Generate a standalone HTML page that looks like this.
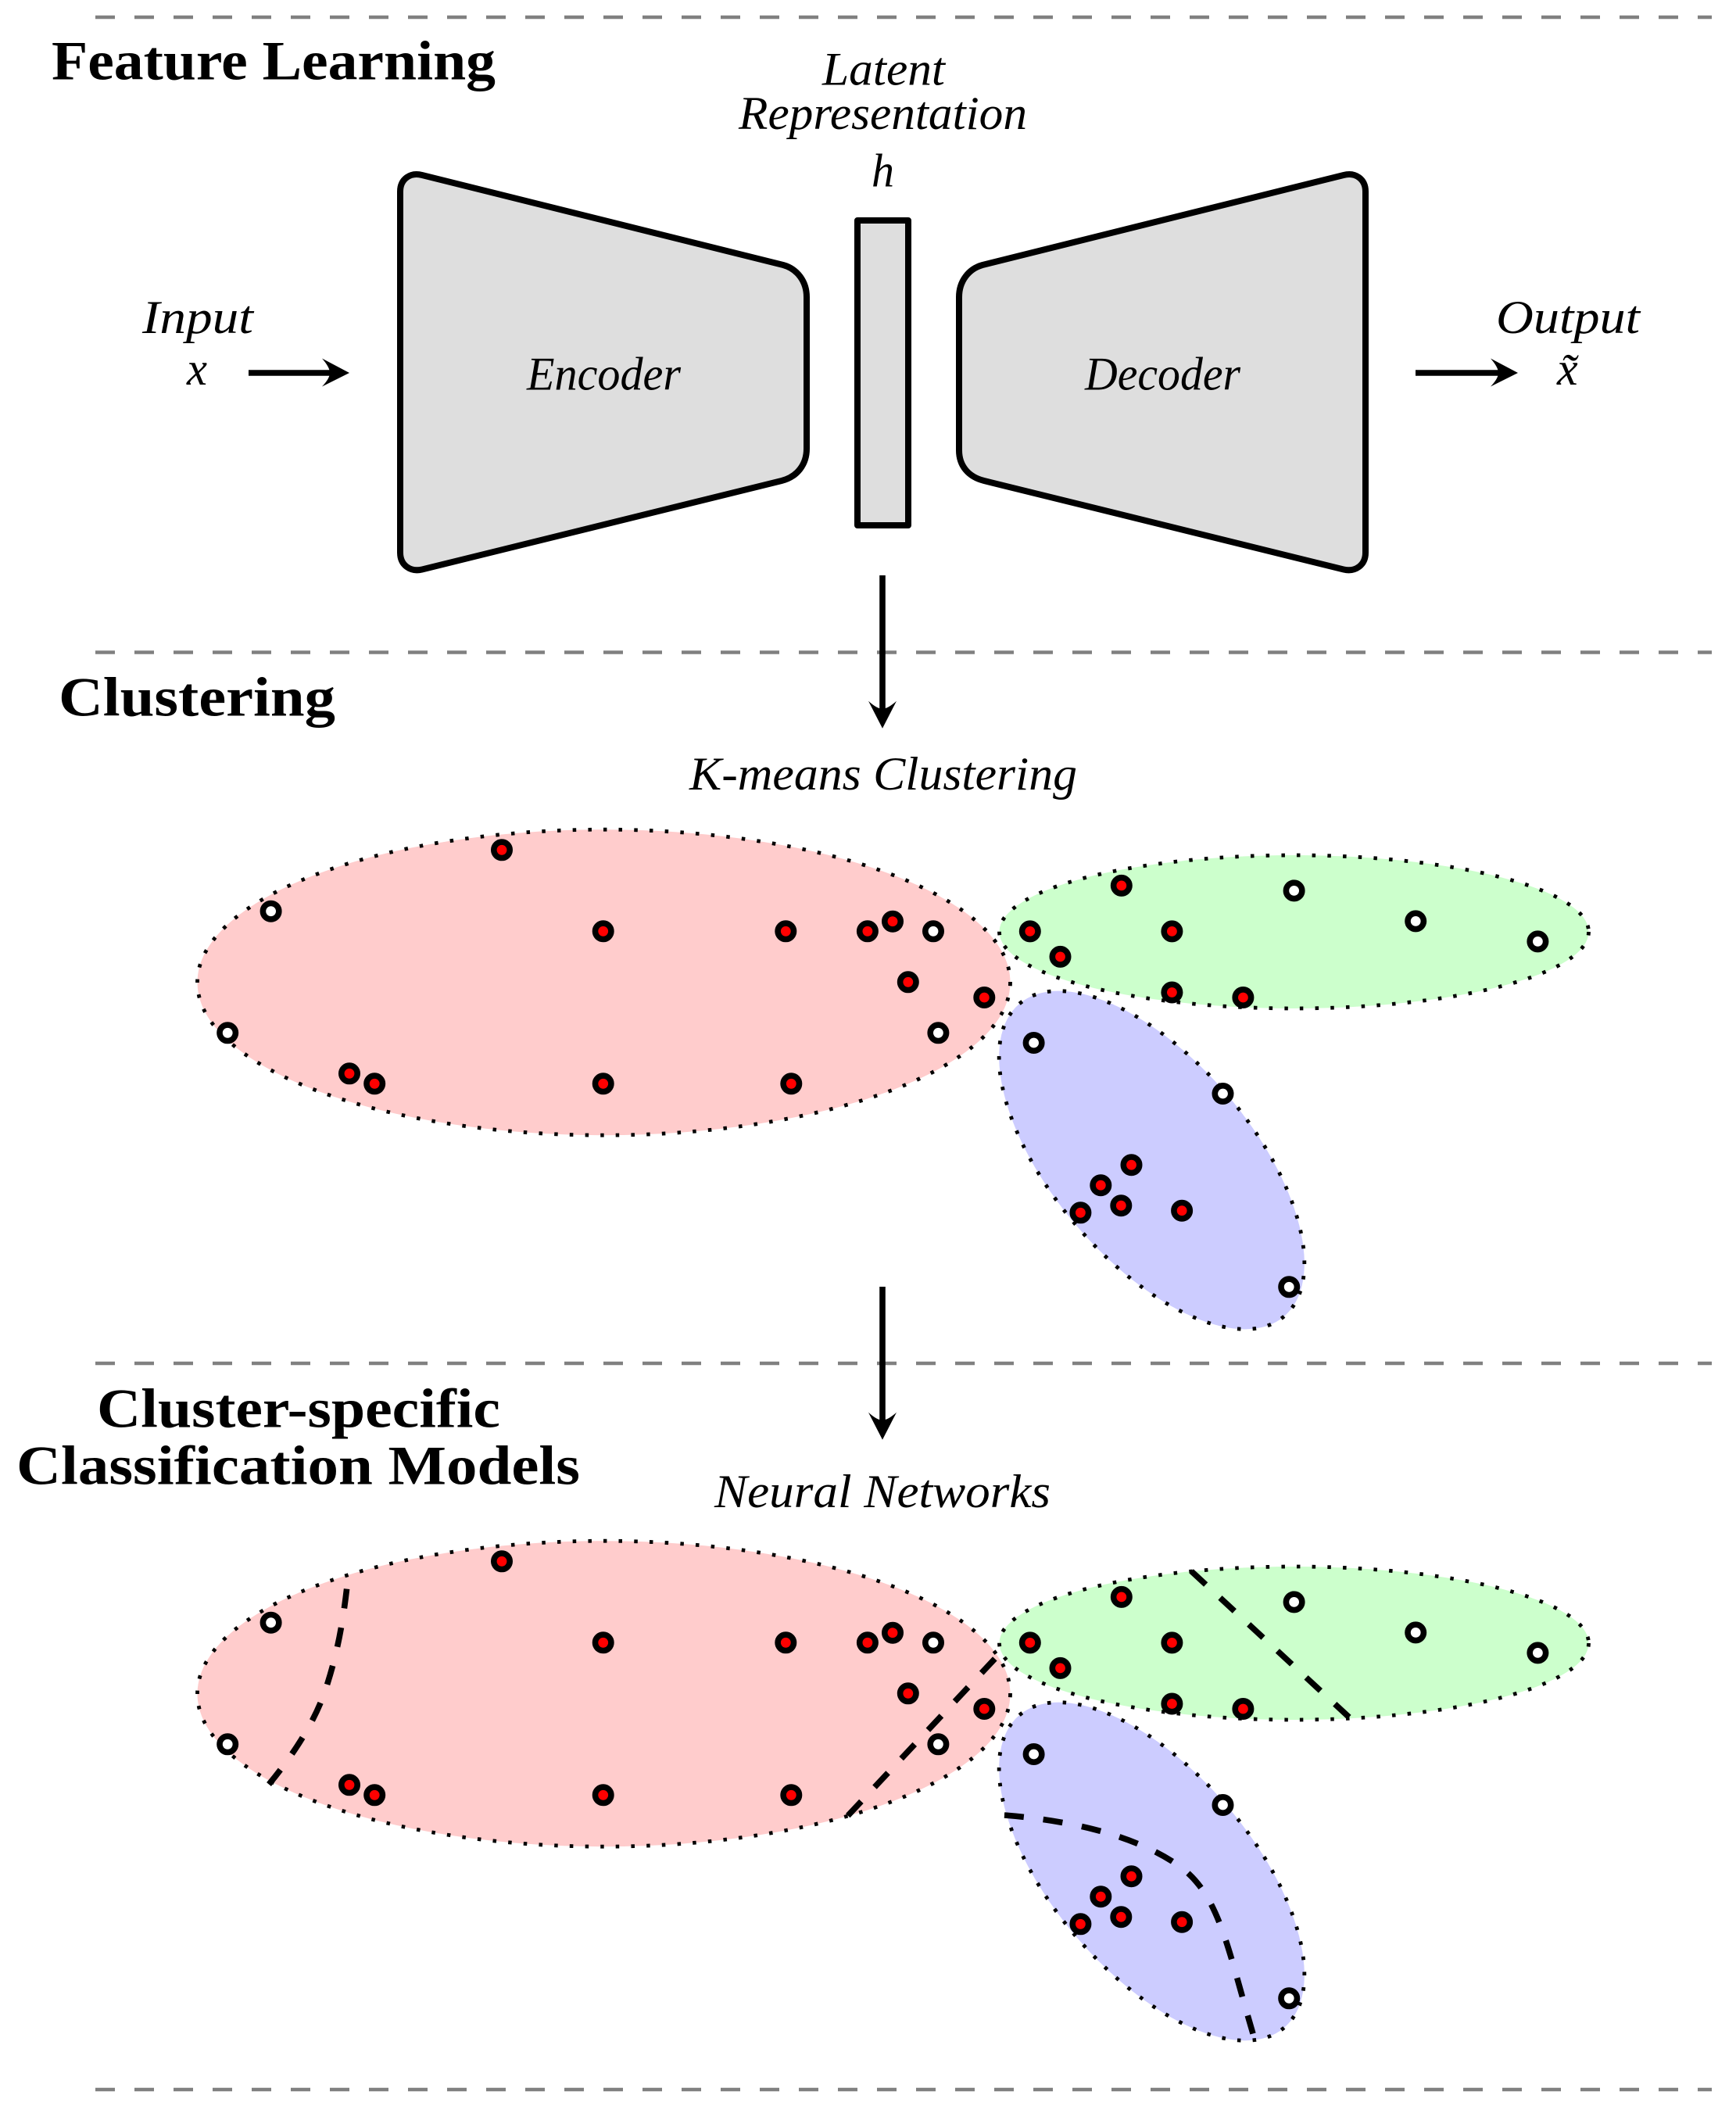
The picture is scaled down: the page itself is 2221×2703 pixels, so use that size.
<!DOCTYPE html>
<html>
<head>
<meta charset="utf-8">
<style>
html,body{margin:0;padding:0;background:#fff}
svg{display:block}
.h{font-family:"Liberation Serif",serif;font-weight:bold;font-size:71px;fill:#000}
.i{font-family:"Liberation Serif",serif;font-style:italic;font-size:60px;fill:#000}
.d{stroke:#808080;stroke-width:4.4;stroke-dasharray:25 25;fill:none}
.s{fill:#dedede;stroke:#000;stroke-width:8;stroke-linejoin:round}
.a{stroke:#000;stroke-width:7.6;fill:none}
.e{stroke:#000;stroke-width:4.8;stroke-dasharray:4.5 15.2}
.r{fill:#f00;stroke:#000;stroke-width:7.6}
.w{fill:#fff;stroke:#000;stroke-width:7.6}
.b{stroke:#000;stroke-width:7.6;stroke-dasharray:25 25;fill:none}
</style>
</head>
<body>
<svg xmlns="http://www.w3.org/2000/svg" width="2221" height="2703" viewBox="0 0 2221 2703">
<rect width="2221" height="2703" fill="#fff"/>

<line class="d" x1="122" y1="22" x2="2190" y2="22"/>
<line class="d" x1="122" y1="834.5" x2="2190" y2="834.5"/>
<line class="d" x1="122" y1="1744" x2="2190" y2="1744"/>
<line class="d" x1="122" y1="2673" x2="2190" y2="2673"/>

<text class="h" x="66" y="101.5" textLength="568" lengthAdjust="spacingAndGlyphs">Feature Learning</text>
<text class="h" x="75" y="915.5" textLength="354" lengthAdjust="spacingAndGlyphs">Clustering</text>
<text class="h" x="124" y="1825.5" textLength="516" lengthAdjust="spacingAndGlyphs">Cluster-specific</text>
<text class="h" x="21" y="1898.5" textLength="721" lengthAdjust="spacingAndGlyphs">Classification Models</text>

<path class="s" d="M512 245 C512 229 525 220 540 224 L1002 339 C1020 344 1032 360 1032 380 L1032 574 C1032 594 1020 610 1000 615 L540 728.5 C525 732 512 723 512 707 Z"/>
<rect class="s" x="1097" y="282" width="65" height="390" stroke-linejoin="miter"/>
<path class="s" d="M1747 245 C1747 229 1734 220 1719 224 L1257 339 C1239 344 1227 360 1227 380 L1227 576 C1227 596 1239 610 1259 615 L1719 728.5 C1734 732 1747 723 1747 707 Z"/>

<text class="i" x="1052" y="108.5" textLength="157" lengthAdjust="spacingAndGlyphs">Latent</text>
<text class="i" x="945" y="165" textLength="369" lengthAdjust="spacingAndGlyphs">Representation</text>
<text class="i" x="1115" y="238.5" textLength="29" lengthAdjust="spacingAndGlyphs">h</text>
<text class="i" x="182" y="426" textLength="142" lengthAdjust="spacingAndGlyphs">Input</text>
<text class="i" x="239" y="492" textLength="26" lengthAdjust="spacingAndGlyphs">x</text>
<text class="i" x="674" y="498.5" textLength="197" lengthAdjust="spacingAndGlyphs">Encoder</text>
<text class="i" x="1388" y="498.5" textLength="199" lengthAdjust="spacingAndGlyphs">Decoder</text>
<text class="i" x="1914" y="426" textLength="184" lengthAdjust="spacingAndGlyphs">Output</text>
<text class="i" x="1992" y="492">x̃</text>
<text class="i" x="882" y="1010" textLength="496" lengthAdjust="spacingAndGlyphs">K-means Clustering</text>
<text class="i" x="914" y="1928" textLength="430" lengthAdjust="spacingAndGlyphs">Neural Networks</text>

<line class="a" x1="318" y1="477" x2="425" y2="477"/>
<path d="M447 477 L412 458.5 Q422 470 422 477 Q422 484 412 494.5Z" fill="#000"/>
<line class="a" x1="1811" y1="477" x2="1920" y2="477"/>
<path d="M1942 477 L1907 458.5 Q1917 470 1917 477 Q1917 484 1907 494.5Z" fill="#000"/>
<line class="a" x1="1129" y1="736" x2="1129" y2="910"/>
<path d="M1129 931.7 L1111 896.7 Q1122 906.7 1129 906.7 Q1136 906.7 1147 896.7Z" fill="#000"/>
<line class="a" x1="1129" y1="1646" x2="1129" y2="1820"/>
<path d="M1129 1841.7 L1111 1806.7 Q1122 1816.7 1129 1816.7 Q1136 1816.7 1147 1806.7Z" fill="#000"/>

<g id="panel">
<ellipse class="e" cx="772.5" cy="1256.7" rx="520" ry="195.5" fill="#ffcccc"/>
<ellipse class="e" cx="1655.5" cy="1192" rx="377" ry="98" fill="#ccffcc"/>
<ellipse class="e" cx="0" cy="0" rx="262" ry="127.7" fill="#ccccff" transform="translate(1473.5 1484) rotate(49.75)"/>
<circle class="r" cx="642" cy="1087.3" r="10.2"/>
<circle class="r" cx="771.7" cy="1191.3" r="10.2"/>
<circle class="r" cx="1005.3" cy="1191.3" r="10.2"/>
<circle class="r" cx="1109.9" cy="1191.3" r="10.2"/>
<circle class="r" cx="1142" cy="1178.7" r="10.2"/>
<circle class="r" cx="1161.8" cy="1256.3" r="10.2"/>
<circle class="r" cx="1259.3" cy="1276" r="10.2"/>
<circle class="r" cx="447" cy="1373.3" r="10.2"/>
<circle class="r" cx="479.2" cy="1386.3" r="10.2"/>
<circle class="r" cx="771.7" cy="1386.3" r="10.2"/>
<circle class="r" cx="1012.3" cy="1386.3" r="10.2"/>
<circle class="w" cx="346.6" cy="1165.7" r="10.2"/>
<circle class="w" cx="1194" cy="1191.3" r="10.2"/>
<circle class="w" cx="291.2" cy="1321.3" r="10.2"/>
<circle class="w" cx="1200.4" cy="1321.3" r="10.2"/>
<circle class="r" cx="1434.8" cy="1132.9" r="10.2"/>
<circle class="r" cx="1317.8" cy="1191.4" r="10.2"/>
<circle class="r" cx="1356.5" cy="1223.9" r="10.2"/>
<circle class="r" cx="1499.4" cy="1191.4" r="10.2"/>
<circle class="r" cx="1499.4" cy="1269.5" r="10.2"/>
<circle class="r" cx="1590.4" cy="1276" r="10.2"/>
<circle class="w" cx="1655.6" cy="1139.4" r="10.2"/>
<circle class="w" cx="1811.2" cy="1178.4" r="10.2"/>
<circle class="w" cx="1967.4" cy="1204.4" r="10.2"/>
<circle class="w" cx="1322.6" cy="1334" r="10.2"/>
<circle class="w" cx="1564.5" cy="1399" r="10.2"/>
<circle class="w" cx="1649.2" cy="1646.3" r="10.2"/>
<circle class="r" cx="1447.5" cy="1490.2" r="10.2"/>
<circle class="r" cx="1408.3" cy="1516.2" r="10.2"/>
<circle class="r" cx="1434.3" cy="1542.2" r="10.2"/>
<circle class="r" cx="1382.4" cy="1551.3" r="10.2"/>
<circle class="r" cx="1512.1" cy="1548.7" r="10.2"/>
</g>
<use href="#panel" transform="translate(0 910)"/>

<path class="b" d="M443.6 2032.6 C437 2090 428 2125 418.7 2154.5 C405 2200 375 2245 344 2282.6"/>
<path class="b" d="M1272.8 2121.9 L1084.6 2322.8"/>
<path class="b" d="M1524.3 2010 L1726 2196.7"/>
<path class="b" d="M1285 2322 C1360 2328 1450 2345 1510 2388 C1560 2425 1570 2490 1603 2601.5"/>
</svg>
</body>
</html>
